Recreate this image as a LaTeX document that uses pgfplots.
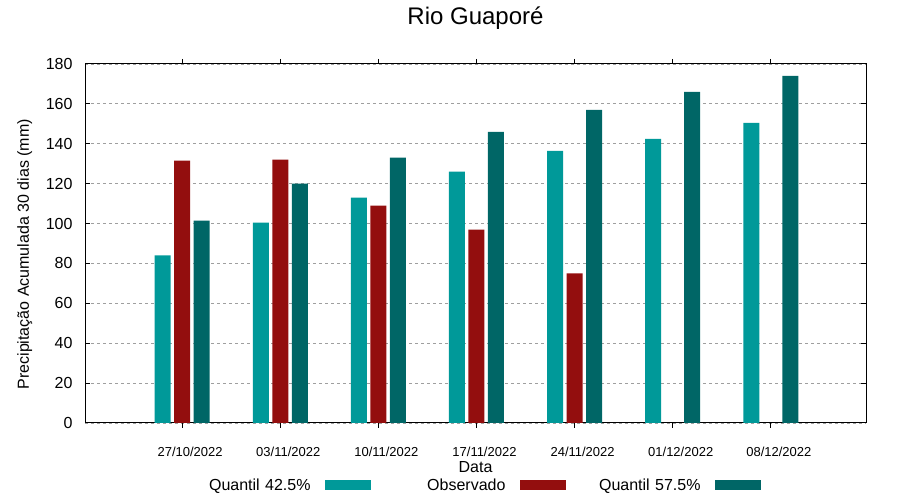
\documentclass[border=0pt]{standalone}
\usepackage{fontspec}
\setmainfont{Liberation Sans}
\usepackage{pgfplots}
\pgfplotsset{compat=1.18}
\definecolor{qa}{HTML}{009999}
\definecolor{obs}{HTML}{930E0E}
\definecolor{qb}{HTML}{006666}
\begin{document}
\begin{tikzpicture}
\useasboundingbox (0,0) rectangle (900bp,500bp);
\begin{axis}[
  at={(85bp,77bp)}, anchor=south west,
  width=781bp, height=359bp, scale only axis,
  xmin=-0.99, xmax=6.97, ymin=0, ymax=180,
  ytick={0,20,...,180},
  xtick={0,...,6},
  xticklabels={27/10/2022,03/11/2022,10/11/2022,17/11/2022,24/11/2022,01/12/2022,08/12/2022},
  /pgf/number format/assume math mode=true,
  tick align=inside,
  major tick length=5bp,
  ymajorgrids,
  grid style={gray!75, dash pattern=on 3bp off 3bp, line width=0.8bp},
  axis line style={line width=1bp},
  tick style={line width=1bp, black},
  yticklabel style={font=\fontsize{16bp}{19bp}\selectfont, anchor=east, xshift=-9bp},
  xticklabel style={font=\fontsize{13bp}{15bp}\selectfont, anchor=center, yshift=-24bp, xshift=8bp},
  title={Rio Guaporé},
  title style={font=\fontsize{24bp}{28bp}\selectfont, at={(0.5,1)}, anchor=center, yshift=40bp},
  xlabel={Data},
  xlabel style={font=\fontsize{16bp}{19bp}\selectfont, at={(0.5,0)}, anchor=center, yshift=-44bp},
  ylabel={Precipitação Acumulada 30 dias (mm)},
  ylabel style={font=\fontsize{16bp}{19bp}\selectfont, at={(axis description cs:-0.077,0.47)}, anchor=center},
  ybar, bar width=16bp,
  legend plot pos=right,
  legend image code/.code={\path (0bp,0bp); \fill[#1] (14bp,-4.5bp) rectangle (60bp,4.5bp);},
  legend style={at={(0.5,0)}, anchor=center, yshift=-62bp, xshift=5bp, draw=none, fill=none,
    legend columns=3, font=\fontsize{16bp}{19bp}\selectfont,
    nodes={text width=110bp, align=right, inner sep=0pt},
    /tikz/every even column/.append style={column sep=25bp}},
]
\addplot[fill=qa, draw=none, bar shift=-19.5bp] coordinates {(0,84) (1,100.5) (2,113) (3,126) (4,136.5) (5,142.5) (6,150.5)};
\addlegendentry{Quantil 42.5\%}
\addplot[fill=obs, draw=none, bar shift=0bp] coordinates {(0,131.5) (1,132) (2,109) (3,97) (4,75)};
\addlegendentry{Observado}
\addplot[fill=qb, draw=none, bar shift=19.5bp] coordinates {(0,101.5) (1,120) (2,133) (3,146) (4,157) (5,166) (6,174)};
\addlegendentry{Quantil 57.5\%}
\end{axis}
\end{tikzpicture}
\end{document}
